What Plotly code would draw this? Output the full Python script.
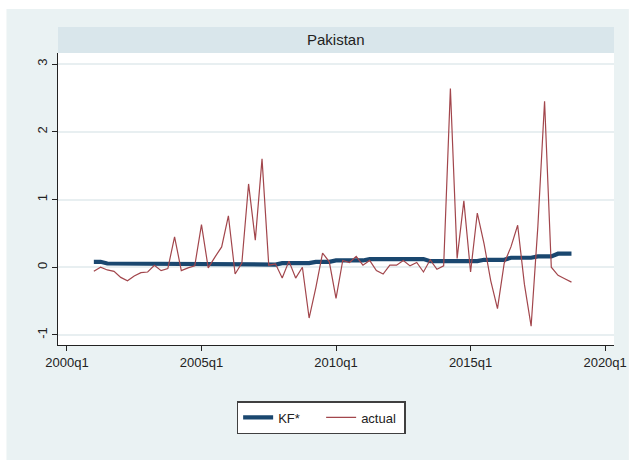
import plotly.graph_objects as go

# Quarterly observations, 2001q1 .. 2018q4 (year + (quarter-1)/4)
quarters = [
    2001.00, 2001.25, 2001.50, 2001.75, 2002.00, 2002.25, 2002.50, 2002.75,
    2003.00, 2003.25, 2003.50, 2003.75, 2004.00, 2004.25, 2004.50, 2004.75,
    2005.00, 2005.25, 2005.50, 2005.75, 2006.00, 2006.25, 2006.50, 2006.75,
    2007.00, 2007.25, 2007.50, 2007.75, 2008.00, 2008.25, 2008.50, 2008.75,
    2009.00, 2009.25, 2009.50, 2009.75, 2010.00, 2010.25, 2010.50, 2010.75,
    2011.00, 2011.25, 2011.50, 2011.75, 2012.00, 2012.25, 2012.50, 2012.75,
    2013.00, 2013.25, 2013.50, 2013.75, 2014.00, 2014.25, 2014.50, 2014.75,
    2015.00, 2015.25, 2015.50, 2015.75, 2016.00, 2016.25, 2016.50, 2016.75,
    2017.00, 2017.25, 2017.50, 2017.75, 2018.00, 2018.25, 2018.50, 2018.75,
]

# Kalman-filter estimate (KF*)
kf_star = [
    0.08, 0.08, 0.055, 0.055, 0.055, 0.055, 0.055, 0.055,
    0.055, 0.055, 0.055, 0.055, 0.055, 0.055, 0.055, 0.055,
    0.055, 0.055, 0.055, 0.04, 0.04, 0.04, 0.04, 0.04,
    0.04, 0.04, 0.04, 0.04, 0.06, 0.06, 0.06, 0.06,
    0.06, 0.08, 0.08, 0.08, 0.10, 0.10, 0.10, 0.10,
    0.10, 0.12, 0.12, 0.12, 0.12, 0.12, 0.12, 0.12,
    0.12, 0.12, 0.09, 0.09, 0.09, 0.09, 0.09, 0.09,
    0.09, 0.09, 0.11, 0.11, 0.11, 0.11, 0.14, 0.14,
    0.14, 0.14, 0.16, 0.16, 0.16, 0.20, 0.20, 0.20,
]

# Observed series
actual = [
    -0.06, 0.00, -0.04, -0.06, -0.15, -0.20, -0.13, -0.08,
    -0.07, 0.03, -0.05, -0.02, 0.45, -0.05, -0.01, 0.02,
    0.63, -0.01, 0.15, 0.30, 0.76, -0.10, 0.06, 1.23,
    0.40, 1.60, 0.03, 0.05, -0.16, 0.09, -0.16, 0.00,
    -0.75, -0.30, 0.21, 0.08, -0.46, 0.10, 0.07, 0.16,
    0.03, 0.10, -0.05, -0.10, 0.03, 0.03, 0.10, 0.02,
    0.07, -0.07, 0.11, -0.03, 0.02, 2.64, 0.13, 0.98,
    -0.07, 0.80, 0.35, -0.20, -0.61, 0.06, 0.30, 0.62,
    -0.25, -0.87, 0.60, 2.45, 0.00, -0.12, -0.17, -0.22,
]

x_tick_vals = [2000, 2005, 2010, 2015, 2020]
x_tick_text = ["2000q1", "2005q1", "2010q1", "2015q1", "2020q1"]
y_tick_vals = [-1, 0, 1, 2, 3]
y_tick_text = ["-1", "0", "1", "2", "3"]
panel_title = "Pakistan"

NAVY = "#1a476f"
MAROON = "#a2464c"
OUTER_BG = "#eaf2f3"
STRIP_BG = "#d9e6eb"
FONT = "Liberation Sans, Arial, sans-serif"

fig = go.Figure()
fig.add_trace(go.Scatter(
    x=quarters, y=kf_star, mode="lines", name="KF*",
    line=dict(color=NAVY, width=4.2),
))
fig.add_trace(go.Scatter(
    x=quarters, y=actual, mode="lines", name="actual",
    line=dict(color=MAROON, width=1.2),
))

# plot area in pixels: x 58..619, y 53..345
W, H = 639, 466
L, R, T, B = 58, 619, 53, 345
pw, ph = R - L, B - T


def px_x(p):
    return (p - L) / pw


def px_y(p):
    return (B - p) / ph


shapes = [
    # graph region background
    dict(type="rect", xref="paper", yref="paper",
         x0=px_x(6), x1=px_x(634), y0=px_y(460), y1=px_y(9),
         fillcolor=OUTER_BG, line=dict(width=0), layer="below"),
    # white plot region
    dict(type="rect", xref="paper", yref="paper",
         x0=0, x1=1, y0=0, y1=1,
         fillcolor="white", line=dict(width=0), layer="below"),
    # subtitle strip
    dict(type="rect", xref="paper", yref="paper",
         x0=0, x1=1, y0=1, y1=px_y(27),
         fillcolor=STRIP_BG, line=dict(width=0), layer="below"),
]

fig.update_layout(
    width=W, height=H,
    margin=dict(l=L, r=W - R, t=T, b=H - B),
    paper_bgcolor="white",
    plot_bgcolor="rgba(0,0,0,0)",
    font=dict(family=FONT, size=13, color="#222222"),
    shapes=shapes,
    annotations=[dict(
        text=panel_title, xref="paper", yref="paper",
        x=0.5, y=px_y(40), xanchor="center", yanchor="middle",
        showarrow=False, font=dict(family=FONT, size=15, color="#222222"),
    )],
    showlegend=True,
    legend=dict(
        orientation="h", x=px_x(323.5), xanchor="center",
        y=px_y(401), yanchor="top",
        bgcolor="white", bordercolor="#404040", borderwidth=1.5,
        font=dict(family=FONT, size=13, color="#222222"),
        itemwidth=30, tracegroupgap=0, entrywidth=38,
    ),
)

fig.update_xaxes(
    range=[1999.668, 2020.33],
    tickmode="array", tickvals=x_tick_vals, ticktext=x_tick_text,
    ticks="outside", ticklen=5, tickcolor="#222222",
    showline=True, linecolor="#222222", linewidth=1,
    showgrid=False, zeroline=False,
    tickfont=dict(size=13),
)
fig.update_yaxes(
    range=[-1.148, 3.163],
    tickmode="array", tickvals=y_tick_vals, ticktext=y_tick_text,
    tickangle=-90,
    ticks="outside", ticklen=5, tickcolor="#222222",
    showline=True, linecolor="#222222", linewidth=1,
    showgrid=True, gridcolor="#e8eff1", gridwidth=1.5,
    zeroline=False,
    tickfont=dict(size=13),
)

fig.write_html("out.html")
